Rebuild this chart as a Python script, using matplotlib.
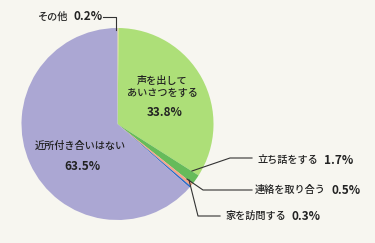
import matplotlib.pyplot as plt

plt.rcParams['font.family'] = ['Noto Sans CJK JP', 'DejaVu Sans']

labels = ['その他', '声を出して\nあいさつをする', '立ち話をする', '連絡を取り合う', '家を訪問する', '近所付き合いはない']
values = [0.2, 33.8, 1.7, 0.5, 0.3, 63.5]
colors = ['#e8e070', '#addf78', '#66bb5a', '#f4a58a', '#2a6ac8', '#aba7d3']

fig = plt.figure(figsize=(3.75, 2.43), dpi=100)
fig.patch.set_facecolor('#f7f6f0')
ax = fig.add_axes([0, 0, 1, 1])

# y axis inverted, so counterclock=True turns clockwise on screen
ax.pie(values, colors=colors, startangle=-90, counterclock=True,
       center=(117.5, 124), radius=96, frame=True,
       wedgeprops=dict(linewidth=0))
ax.set_xlim(0, 375)
ax.set_ylim(243, 0)
ax.set_aspect('equal')
ax.axis('off')

fs = 7.3
pfs = 8.5
tc = '#222222'
lc = '#333333'

# labels inside the pie
ax.text(162, 87, labels[1], ha='center', va='center', fontsize=fs, color=tc,
        linespacing=1.25, fontweight='medium')
ax.text(165, 112, f'{values[1]}%', ha='center', va='center', fontsize=pfs, fontweight='bold', color=tc)
ax.text(80, 146, labels[5], ha='center', va='center', fontsize=fs, color=tc, fontweight='medium')
ax.text(82, 166, f'{values[5]}%', ha='center', va='center', fontsize=pfs, fontweight='bold', color=tc)

# outside labels with leader lines
outside = [
    (0, 67, 17, [(103, 17), (116, 17), (116, 30)]),
    (2, 318, 160, [(192, 171), (230, 158), (252, 158)]),
    (3, 326, 190, [(187, 179), (203, 190), (252, 190)]),
    (4, 286, 216, [(189, 180), (198, 216), (220, 216)]),
]
for i, xr, y, pts in outside:
    ax.text(xr, y, labels[i], ha='right', va='center', fontsize=fs, color=tc, fontweight='medium')
    ax.text(xr + 6, y, f'{values[i]}%', ha='left', va='center', fontsize=pfs, fontweight='bold', color=tc)
    xs, ys = zip(*pts)
    ax.plot(xs, ys, color=lc, lw=0.8)

fig.savefig('out.png', dpi=100, facecolor=fig.get_facecolor())
